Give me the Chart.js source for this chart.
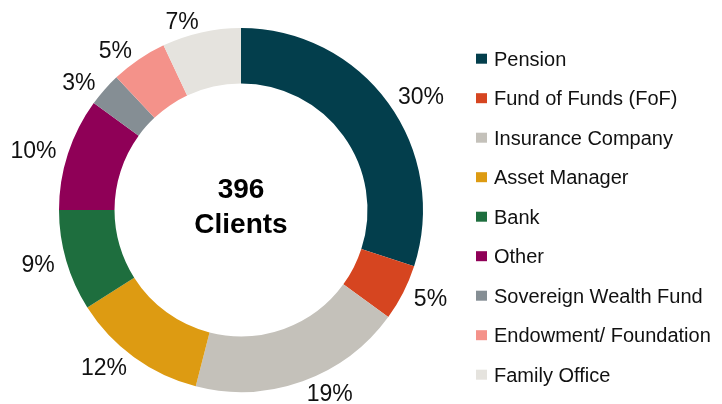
<!DOCTYPE html>
<html>
<head>
<meta charset="utf-8">
<script src="https://cdn.jsdelivr.net/npm/chart.js@4"></script>
<style>
  html, body { margin: 0; padding: 0; background: #fff; }
  #wrap { width: 722px; height: 404px; }
</style>
</head>
<body>
<div id="wrap"><canvas id="myChart" width="722" height="404"></canvas></div>
<script>
const categories = ['Pension', 'Fund of Funds (FoF)', 'Insurance Company', 'Asset Manager', 'Bank', 'Other', 'Sovereign Wealth Fund', 'Endowment/ Foundation', 'Family Office'];
const shares = [30, 5, 19, 12, 9, 10, 3, 5, 7];
const colors = ['#033e4c', '#d64520', '#c4c1ba', '#dd9b12', '#1e6e3e', '#8f0057', '#858e94', '#f4928a', '#e5e3de'];
const totalClients = 396;

const fontName = '"Liberation Sans", Arial, sans-serif';

// percent labels outside the ring (left side right-aligned, right side left-aligned)
const outsideLabels = {
    id: 'outsideLabels',
    afterDatasetsDraw(chart) {
        const ctx = chart.ctx;
        const meta = chart.getDatasetMeta(0);
        ctx.save();
        ctx.font = '23px ' + fontName;
        ctx.fillStyle = '#111';
        ctx.textBaseline = 'alphabetic';
        meta.data.forEach((arc, i) => {
            const mid = (arc.startAngle + arc.endAngle) / 2;
            const r = arc.outerRadius + 12;
            const ax = arc.x + r * Math.cos(mid);
            const ay = arc.y + r * Math.sin(mid);
            ctx.textAlign = Math.cos(mid) < 0 ? 'right' : 'left';
            ctx.fillText(shares[i] + '%', ax, ay + 23 * 0.358);
        });
        // center text
        ctx.font = 'bold 28px ' + fontName;
        ctx.fillStyle = '#000';
        ctx.textAlign = 'center';
        const a = meta.data[0];
        ctx.fillText(String(totalClients), a.x, 198);
        ctx.fillText('Clients', a.x, 233);
        ctx.restore();
    }
};

// legend on the right
const sideLegend = {
    id: 'sideLegend',
    afterDraw(chart) {
        const ctx = chart.ctx;
        ctx.save();
        ctx.font = '20px ' + fontName;
        ctx.textAlign = 'left';
        ctx.textBaseline = 'alphabetic';
        chart.data.labels.forEach((lab, i) => {
            const y = 58.7 + i * 39.5;
            ctx.fillStyle = chart.data.datasets[0].backgroundColor[i];
            ctx.fillRect(476, y - 5, 11, 10);
            ctx.fillStyle = '#111';
            ctx.fillText(lab, 494, y + 20 * 0.358);
        });
        ctx.restore();
    }
};

new Chart(document.getElementById('myChart').getContext('2d'), {
    type: 'doughnut',
    data: {
        labels: categories,
        datasets: [{
            data: shares,
            backgroundColor: colors,
            borderWidth: 0
        }]
    },
    options: {
        responsive: false,
        animation: false,
        cutout: '69.5%',
        layout: { padding: { top: 28, bottom: 12, left: 0, right: 240 } },
        plugins: {
            legend: { display: false },
            tooltip: { enabled: false }
        }
    },
    plugins: [outsideLabels, sideLegend]
});
</script>
</body>
</html>
